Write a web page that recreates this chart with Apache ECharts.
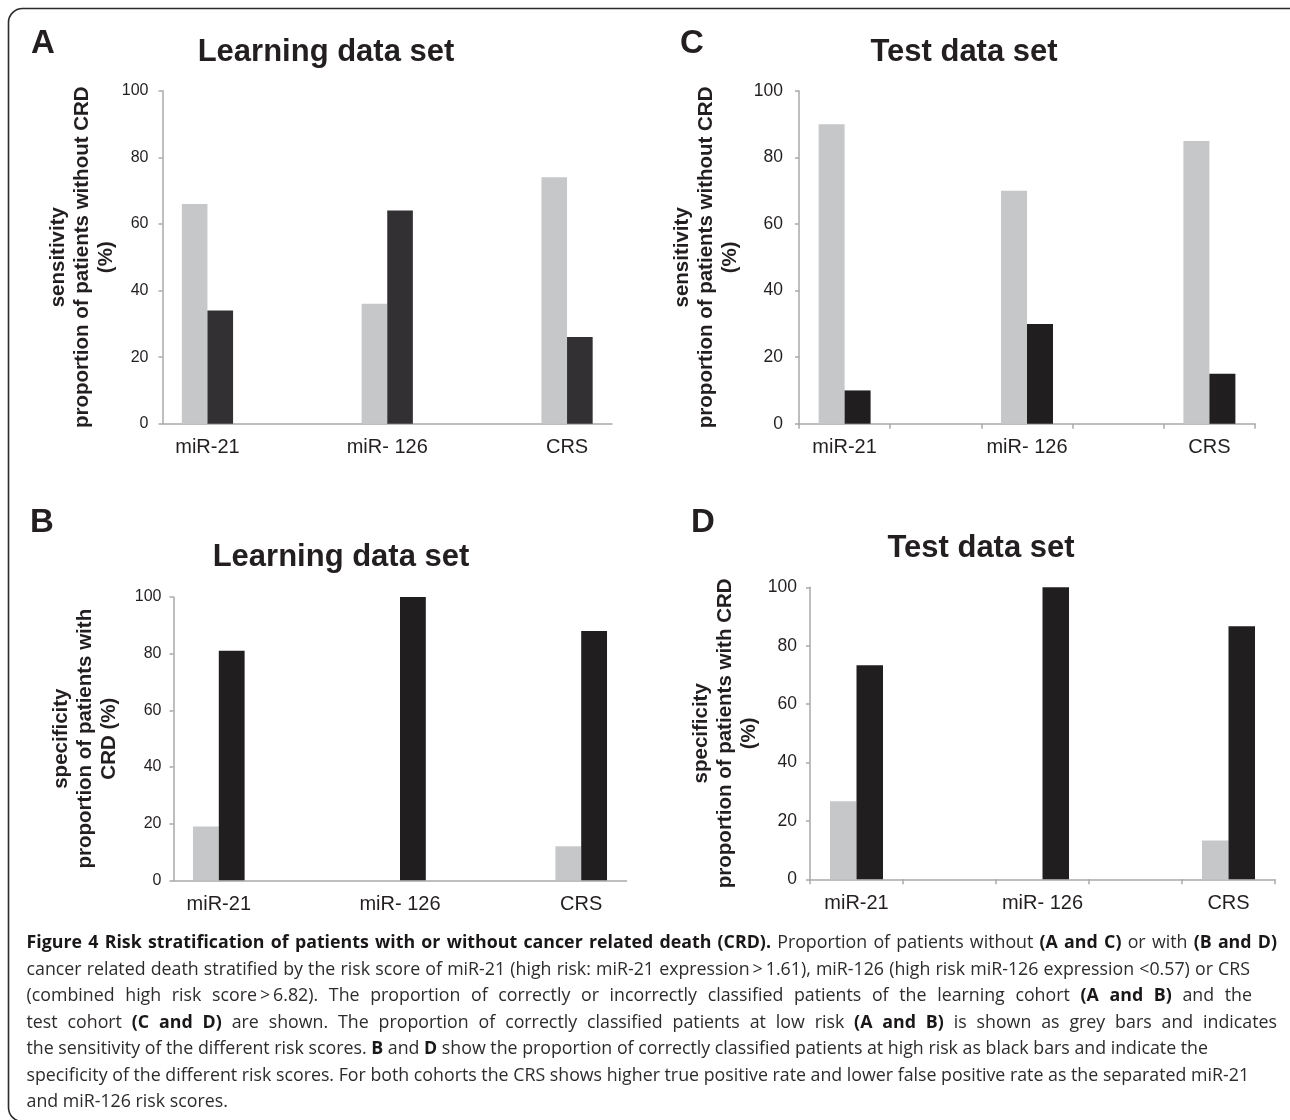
<!DOCTYPE html>
<html>
<head>
<meta charset="utf-8">
<script src="https://cdn.jsdelivr.net/npm/echarts@6/dist/echarts.min.js"></script>
<style>
  html, body { margin: 0; padding: 0; background: #ffffff; }
  #chart { width: 1290px; height: 1120px; }
</style>
</head>
<body>
<div id="chart"></div>
<script>
// ---------- data ----------
var categories = ['miR-21', 'miR- 126', 'CRS'];
var yTicks = { min: 0, max: 100, interval: 20 };

// A: learning cohort, patients without CRD
var learningWithoutGrey  = [66, 36, 74];
var learningWithoutBlack = [34, 64, 26];
// C: test cohort, patients without CRD
var testWithoutGrey  = [90, 70, 85];
var testWithoutBlack = [10, 30, 15];
// B: learning cohort, patients with CRD
var learningWithGrey  = [19, 0, 12];
var learningWithBlack = [81, 100, 88];
// D: test cohort, patients with CRD
var testWithGrey  = [26.7, 0, 13.3];
var testWithBlack = [73.3, 100, 86.7];

var panelLetters = ['A', 'C', 'B', 'D'];
var panelTitles = ['Learning data set', 'Test data set', 'Learning data set', 'Test data set'];
var yNames = [
  'sensitivity\nproportion of patients without CRD\n(%)',
  'sensitivity\nproportion of patients without CRD\n(%)',
  'specificity\nproportion of patients with\nCRD (%)',
  'specificity\nproportion of patients with CRD\n(%)'
];

var captionLines = [
  [['Figure 4 Risk stratification of patients with or without cancer related death (CRD).', 1], [' Proportion of patients without ', 0], ['(A and C)', 1], [' or with ', 0], ['(B and D)', 1]],
  [['cancer related death stratified by the risk score of miR-21 (high risk: miR-21 expression\u2009>\u20091.61), miR-126 (high risk miR-126 expression <0.57) or CRS', 0]],
  [['(combined high risk score\u2009>\u20096.82). The proportion of correctly or incorrectly classified patients of the learning cohort ', 0], ['(A and B)', 1], [' and the', 0]],
  [['test cohort ', 0], ['(C and D)', 1], [' are shown. The proportion of correctly classified patients at low risk ', 0], ['(A and B)', 1], [' is shown as grey bars and indicates', 0]],
  [['the sensitivity of the different risk scores. ', 0], ['B', 1], [' and ', 0], ['D', 1], [' show the proportion of correctly classified patients at high risk as black bars and indicate the', 0]],
  [['specificity of the different risk scores. For both cohorts the CRS shows higher true positive rate and lower false positive rate as the separated miR-21', 0]],
  [['and miR-126 risk scores.', 0]]
];

// ---------- layout / style ----------
var SANS = 'Liberation Sans, Arial, Helvetica, sans-serif';
var TXT = '#231f20';
var AXIS = '#a9a9a9';
var GREY = '#c6c7c9';
var BLACKS = ['#323032', '#211e1f', '#211e1f', '#211e1f'];

var grids = [
  { left: 162.5, top: 90.7, width: 449.5, height: 333 },   // A
  { left: 799,   top: 91,   width: 456,   height: 332.7 }, // C
  { left: 173.5, top: 597,  width: 453,   height: 283.3 }, // B
  { left: 810,   top: 587.3, width: 465,  height: 292 }    // D
];
var tickFont = [16, 17.5, 16, 17.5];
var tickMargin = [14, 16, 12, 13];
var nameGaps = [44, 57, 52, 49];
var showXTicks = [false, true, false, true];
var letterPos = [[31, 44], [680, 44], [30, 523], [691, 523]];
var titlePos = [[326, 52], [964, 52], [341, 557], [981, 548]];

var panelData = [
  [learningWithoutGrey, learningWithoutBlack],
  [testWithoutGrey, testWithoutBlack],
  [learningWithGrey, learningWithBlack],
  [testWithGrey, testWithBlack]
];

// the source chart has empty slots between the three groups
function slots(arr, filler) {
  var out = [];
  arr.forEach(function (v, i) { if (i > 0) out.push(filler); out.push(v); });
  return out;
}
var axisCategories = slots(categories, '');

var xAxes = [], yAxes = [], series = [];
grids.forEach(function (g, i) {
  g.outerBoundsMode = 'none';
  g.containLabel = false;
  xAxes.push({
    type: 'category', gridIndex: i, data: axisCategories, boundaryGap: true,
    axisLine: { show: true, lineStyle: { color: AXIS, width: 1.5 } },
    axisTick: { show: showXTicks[i], interval: 0, length: 5, lineStyle: { color: AXIS, width: 1.5 } },
    axisLabel: { interval: 0, margin: 14, fontSize: 20, fontFamily: SANS, color: TXT },
    splitLine: { show: false }
  });
  yAxes.push({
    type: 'value', gridIndex: i, min: yTicks.min, max: yTicks.max, interval: yTicks.interval,
    name: yNames[i], nameLocation: 'middle', nameRotate: 90, nameGap: nameGaps[i],
    nameTextStyle: { fontSize: 20.5, fontWeight: 'bold', fontFamily: SANS, color: TXT, lineHeight: 24 },
    axisLine: { show: true, lineStyle: { color: AXIS, width: 1.5 } },
    axisTick: { show: true, length: 4, lineStyle: { color: AXIS, width: 1.5 } },
    axisLabel: { margin: tickMargin[i], fontSize: tickFont[i], fontFamily: SANS, color: TXT },
    splitLine: { show: false }
  });
  series.push({
    type: 'bar', xAxisIndex: i, yAxisIndex: i, data: slots(panelData[i][0], null),
    itemStyle: { color: GREY }, barGap: '0%', barCategoryGap: '43%', silent: true
  });
  series.push({
    type: 'bar', xAxisIndex: i, yAxisIndex: i, data: slots(panelData[i][1], null),
    itemStyle: { color: BLACKS[i] }, barGap: '0%', barCategoryGap: '43%', silent: true
  });
});

// ---------- graphic: border, letters, titles, caption ----------
var graphics = [];
graphics.push({
  type: 'rect', silent: true, z: 0,
  shape: { x: 8.5, y: 8.5, width: 1300, height: 1113, r: 14 },
  style: { fill: 'none', stroke: '#2b2b2b', lineWidth: 1.6 }
});
panelLetters.forEach(function (L, i) {
  graphics.push({
    type: 'text', x: letterPos[i][0], y: letterPos[i][1], silent: true,
    style: { text: L, fontSize: 33, fontWeight: 'bold', fontFamily: SANS, fill: TXT, align: 'left', verticalAlign: 'middle' }
  });
  graphics.push({
    type: 'text', x: titlePos[i][0], y: titlePos[i][1], silent: true,
    style: { text: panelTitles[i], fontSize: 31, fontWeight: 'bold', fontFamily: SANS, fill: TXT, align: 'center', verticalAlign: 'middle' }
  });
});

// caption layout: words measured, lines 1-4 spread to their right edges as in the source
var CAP_FAMILY = 'Open Sans, sans-serif';
var capLeft = 26.5;
var capY = [943, 969.5, 996, 1022.6, 1049, 1075.6, 1102];
var capRight = [1277, 1250, 1252, 1277, null, null, null];
var ctx = document.createElement('canvas').getContext('2d');
function measure(t, bold, size) {
  ctx.font = (bold ? 'bold ' : 'normal ') + size + 'px ' + CAP_FAMILY;
  return ctx.measureText(t).width;
}
function wordsOf(line) {
  var ws = [];
  line.forEach(function (seg) {
    seg[0].split(' ').forEach(function (w) { if (w.length) ws.push({ t: w, b: seg[1] }); });
  });
  return ws;
}
var baseSize = 16;
var l5 = wordsOf(captionLines[4]);
var nat5 = l5.reduce(function (s, w) { return s + measure(w.t, w.b, baseSize); }, 0) + (l5.length - 1) * measure(' ', 0, baseSize);
var capSize = Math.max(14, Math.min(18.5, baseSize * (1209 - capLeft) / nat5));
captionLines.forEach(function (line, li) {
  var ws = wordsOf(line);
  var widths = ws.map(function (w) { return measure(w.t, w.b, capSize); });
  var sum = widths.reduce(function (a, b) { return a + b; }, 0);
  var gap = measure(' ', 0, capSize);
  if (capRight[li] && ws.length > 1) {
    gap = Math.max(gap * 0.5, (capRight[li] - capLeft - sum) / (ws.length - 1));
  }
  var x = capLeft;
  ws.forEach(function (w, wi) {
    graphics.push({
      type: 'text', x: x, y: capY[li], silent: true,
      style: { text: w.t, fontSize: capSize, fontWeight: w.b ? 'bold' : 'normal', fontFamily: CAP_FAMILY,
               fill: w.b ? '#1a1718' : '#2e2b2c', align: 'left', verticalAlign: 'middle' }
    });
    x += widths[wi] + gap;
  });
});

var chart = echarts.init(document.getElementById('chart'), null, { renderer: 'canvas' });
chart.setOption({
  animation: false,
  backgroundColor: '#ffffff',
  grid: grids,
  xAxis: xAxes,
  yAxis: yAxes,
  series: series,
  graphic: { elements: graphics }
});
</script>
</body>
</html>
